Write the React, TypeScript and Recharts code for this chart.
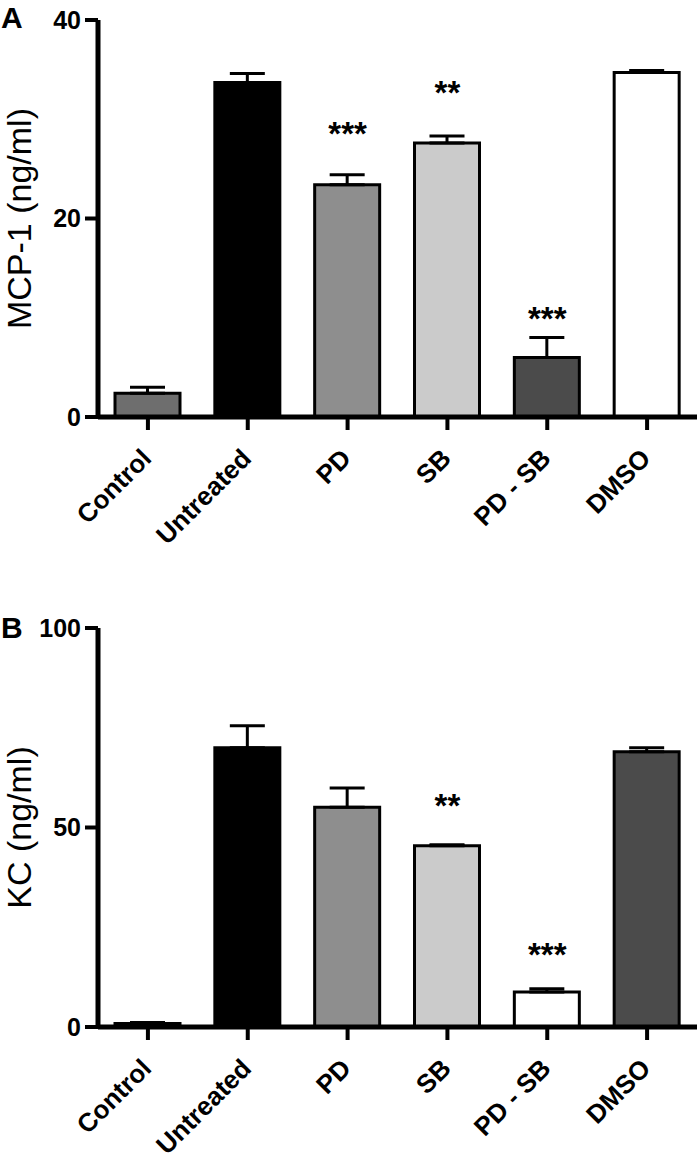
import React from "react";
import { ComposedChart, Bar, Line, XAxis, YAxis, ErrorBar, Cell } from "recharts";

const GROUPS = ["Control", "Untreated", "PD", "SB", "PD - SB", "DMSO"];

// panel A: MCP-1 (ng/ml), mean + upper SEM
const MCP1 = [2.4, 33.7, 23.4, 27.6, 6.0, 34.7];
const MCP1_SEM = [0.6, 0.9, 1.0, 0.7, 2.0, 0.2];
const MCP1_STARS = ["", "", "***", "**", "***", ""];
const MCP1_STAR_AT = [null, null, 29.1, 33.2, 10.5, null];
const MCP1_TICKS = [0, 20, 40];

// panel B: KC (ng/ml)
const KC = [0.9, 70.0, 55.1, 45.4, 8.8, 69.0];
const KC_SEM = [0.2, 5.5, 4.8, 0.3, 0.8, 1.0];
const KC_STARS = ["", "", "", "**", "***", ""];
const KC_STAR_AT = [null, null, null, 56.9, 19.5, null];
const KC_TICKS = [0, 50, 100];

const FILL_A = ["#6e6e6e", "#000000", "#8e8e8e", "#cbcbcb", "#4b4b4b", "#ffffff"];
const FILL_B = ["#6e6e6e", "#000000", "#8e8e8e", "#cbcbcb", "#ffffff", "#4b4b4b"];

const FONT = "Liberation Sans, Arial, sans-serif";

function rows(vals: number[], sem: number[], stars: string[], at: (number | null)[]) {
  return GROUPS.map((g, i) => ({
    group: g,
    value: vals[i],
    err: [0, sem[i]],
    stars: stars[i],
    starAt: at[i],
  }));
}

// category label, tilted 45deg, right end just past its tick
const renderXTick = (p: any) => {
  const tx = Number(p.x) + 5;
  const ty = Number(p.y) + 28;
  return (
    <g key={`xt-${p.index}`} transform={`translate(${tx}, ${ty}) rotate(-45)`}>
      <text x={0} y={0} textAnchor="end" fontSize={26} fontWeight="bold"
        fontFamily={FONT} fill="#000">
        {p.payload.value}
      </text>
    </g>
  );
};

const renderStar = (p: any) => {
  const key = `star-${p.index}`;
  if (!p.payload || !p.payload.stars || p.cy == null || isNaN(p.cy)) return <g key={key} />;
  return (
    <text key={key} x={p.cx} y={p.cy + 17} textAnchor="middle" fontSize={33}
      fontWeight="bold" fontFamily={FONT} fill="#000">
      {p.payload.stars}
    </text>
  );
};

function Panel({ data, fills, ticks, title, letter, letterDy, height, top, xh }: any) {
  const yTitle = (props: any) => {
    const vb = props.viewBox || {};
    const cy = vb.y + vb.height / 2;
    return (
      <g>
        <text x={31} y={cy} transform={`rotate(-90, 31, ${cy})`} textAnchor="middle"
          fontSize={34} fontFamily={FONT} fill="#000">
          {title}
        </text>
        <text x={1} y={vb.y + letterDy} fontSize={30} fontWeight="bold" fontFamily={FONT} fill="#000">
          {letter}
        </text>
      </g>
    );
  };
  return (
    <ComposedChart width={700} height={height} data={data}
      margin={{ top, right: 3, bottom: 0, left: 0 }}>
      <XAxis dataKey="group" interval={0} height={xh} tickSize={13} tickMargin={2}
        axisLine={{ stroke: "#000", strokeWidth: 5 }}
        tickLine={{ stroke: "#000", strokeWidth: 4 }} tick={renderXTick} />
      <YAxis type="number" domain={[0, ticks[ticks.length - 1]]} ticks={ticks} width={98}
        tickSize={13} tickMargin={4}
        axisLine={{ stroke: "#000", strokeWidth: 5 }}
        tickLine={{ stroke: "#000", strokeWidth: 4 }}
        tick={{ fontSize: 25, fontWeight: "bold", fill: "#000", fontFamily: FONT }}
        label={{ content: yTitle }} />
      <Bar dataKey="value" barSize={65} stroke="#000" strokeWidth={3} isAnimationActive={false}>
        {data.map((d: any, i: number) => <Cell key={d.group} fill={fills[i]} />)}
        <ErrorBar dataKey="err" direction="y" width={17.5} stroke="#000" strokeWidth={3} />
      </Bar>
      <Line dataKey="starAt" stroke="none" dot={renderStar} activeDot={false}
        legendType="none" isAnimationActive={false} />
    </ComposedChart>
  );
}

export default function App() {
  const a = rows(MCP1, MCP1_SEM, MCP1_STARS, MCP1_STAR_AT);
  const b = rows(KC, KC_SEM, KC_STARS, KC_STAR_AT);
  return (
    <div>
      <div style={{ position: "absolute", left: 0, top: 0, width: 700, height: 1166, background: "#fff" }}>
        <Panel data={a} fills={FILL_A} ticks={MCP1_TICKS} title="MCP-1 (ng/ml)" letter="A" letterDy={8}
          height={560} top={20} xh={143} />
        <Panel data={b} fills={FILL_B} ticks={KC_TICKS} title="KC (ng/ml)" letter="B" letterDy={10}
          height={606} top={68} xh={139} />
      </div>
    </div>
  );
}
